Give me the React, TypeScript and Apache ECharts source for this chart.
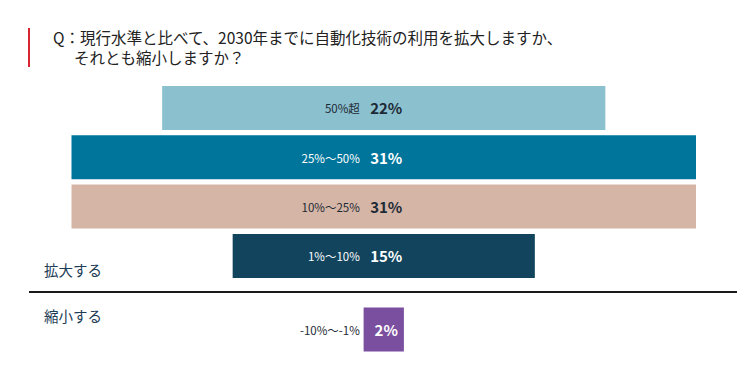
import React, { useEffect, useRef } from "react";
import * as echarts from "echarts";

// ---- data ----
const titleLines = [
  "Q：現行水準と比べて、2030年までに自動化技術の利用を拡大しますか、",
  "それとも縮小しますか？",
];
const groupLabels = ["拡大する", "縮小する"];
const expandCategories = ["50%超", "25%〜50%", "10%〜25%", "1%〜10%"];
const expandValues = [22, 31, 31, 15];
const shrinkCategories = ["-10%〜-1%"];
const shrinkValues = [2];

// ---- styles ----
const FONT = '"Noto Sans CJK JP", "Noto Sans", sans-serif';
const expandColors = ["#8BC0CF", "#00759B", "#D5B5A6", "#12455D"];
const expandInk = ["#1d2a35", "#ffffff", "#1d2a35", "#ffffff"];
const shrinkColors = ["#7B4F9F"];
const shrinkInk = ["#ffffff"];
const DARK_INK = "#1d2a35";

const SCALE_MAX = Math.max(...expandValues, ...shrinkValues);
const CENTER = SCALE_MAX / 2;

function makeRenderItem(cats: string[], vals: number[], colors: string[], inks: string[]) {
  return (params: any, api: any) => {
    const i = params.dataIndex;
    const v = api.value(0);
    const ci = api.value(1);
    const p0 = api.coord([CENTER - v / 2, ci]);
    const p1 = api.coord([CENTER + v / 2, ci]);
    const band = api.size([0, 1])[1];
    const h = band * 0.892;
    const yc = p0[1];
    const cx = (p0[0] + p1[0]) / 2;
    const catRight = cx - 24;
    const catInk = catRight < p0[0] ? DARK_INK : inks[i];
    return {
      type: "group",
      children: [
        {
          type: "rect",
          shape: { x: p0[0], y: yc - h / 2, width: p1[0] - p0[0], height: h },
          style: { fill: colors[i] },
        },
        {
          type: "text",
          x: catRight,
          y: yc + 0.5,
          style: {
            text: cats[i],
            align: "right",
            verticalAlign: "middle",
            fill: catInk,
            fontSize: 11.5,
            fontFamily: FONT,
          },
        },
        {
          type: "text",
          x: cx + 2.5,
          y: yc,
          style: {
            text: vals[i] + "%",
            align: "center",
            verticalAlign: "middle",
            fill: inks[i],
            fontSize: 15,
            fontWeight: "bold",
            fontFamily: FONT,
          },
        },
      ],
    };
  };
}

export default function App() {
  const ref = useRef<HTMLDivElement>(null);

  useEffect(() => {
    document.body.style.margin = "0";
    const chart = echarts.init(ref.current!, null, { renderer: "svg" });
    const option: any = {
      animation: false,
      backgroundColor: "#ffffff",
      textStyle: { fontFamily: FONT },
      grid: [
        { left: 71.5, right: 48, top: 83.3, height: 197.3 },
        { left: 71.5, right: 48, top: 304.9, height: 49.3 },
      ],
      xAxis: [
        { gridIndex: 0, type: "value", min: 0, max: SCALE_MAX, show: false },
        { gridIndex: 1, type: "value", min: 0, max: SCALE_MAX, show: false },
      ],
      yAxis: [
        { gridIndex: 0, type: "category", data: expandCategories, inverse: true, show: false },
        { gridIndex: 1, type: "category", data: shrinkCategories, inverse: true, show: false },
      ],
      series: [
        {
          type: "custom",
          xAxisIndex: 0,
          yAxisIndex: 0,
          encode: { x: 0, y: 1 },
          data: expandValues.map((v, i) => [v, expandCategories[i]]),
          renderItem: makeRenderItem(expandCategories, expandValues, expandColors, expandInk),
        },
        {
          type: "custom",
          xAxisIndex: 1,
          yAxisIndex: 1,
          encode: { x: 0, y: 1 },
          data: shrinkValues.map((v, i) => [v, shrinkCategories[i]]),
          renderItem: makeRenderItem(shrinkCategories, shrinkValues, shrinkColors, shrinkInk),
        },
      ],
      graphic: [
        {
          type: "rect",
          shape: { x: 28, y: 28, width: 2, height: 39 },
          style: { fill: "#D62430" },
        },
        {
          type: "text",
          x: 53,
          y: 37,
          style: {
            text: titleLines[0],
            fontSize: 15.5,
            fontFamily: FONT,
            fill: "#222222",
            verticalAlign: "middle",
          },
        },
        {
          type: "text",
          x: 74,
          y: 57,
          style: {
            text: titleLines[1],
            fontSize: 15.5,
            fontFamily: FONT,
            fill: "#222222",
            verticalAlign: "middle",
          },
        },
        {
          type: "line",
          shape: { x1: 29, y1: 292, x2: 737, y2: 292 },
          style: { stroke: "#1a1a1a", lineWidth: 2 },
        },
        {
          type: "text",
          x: 44,
          y: 269,
          style: {
            text: groupLabels[0],
            fontSize: 14.5,
            fontFamily: FONT,
            fill: "#1e3c56",
            verticalAlign: "middle",
          },
        },
        {
          type: "text",
          x: 44,
          y: 315,
          style: {
            text: groupLabels[1],
            fontSize: 14.5,
            fontFamily: FONT,
            fill: "#1e3c56",
            verticalAlign: "middle",
          },
        },
      ],
    };
    chart.setOption(option);
    return () => chart.dispose();
  }, []);

  return <div ref={ref} style={{ width: 744, height: 371 }} />;
}
